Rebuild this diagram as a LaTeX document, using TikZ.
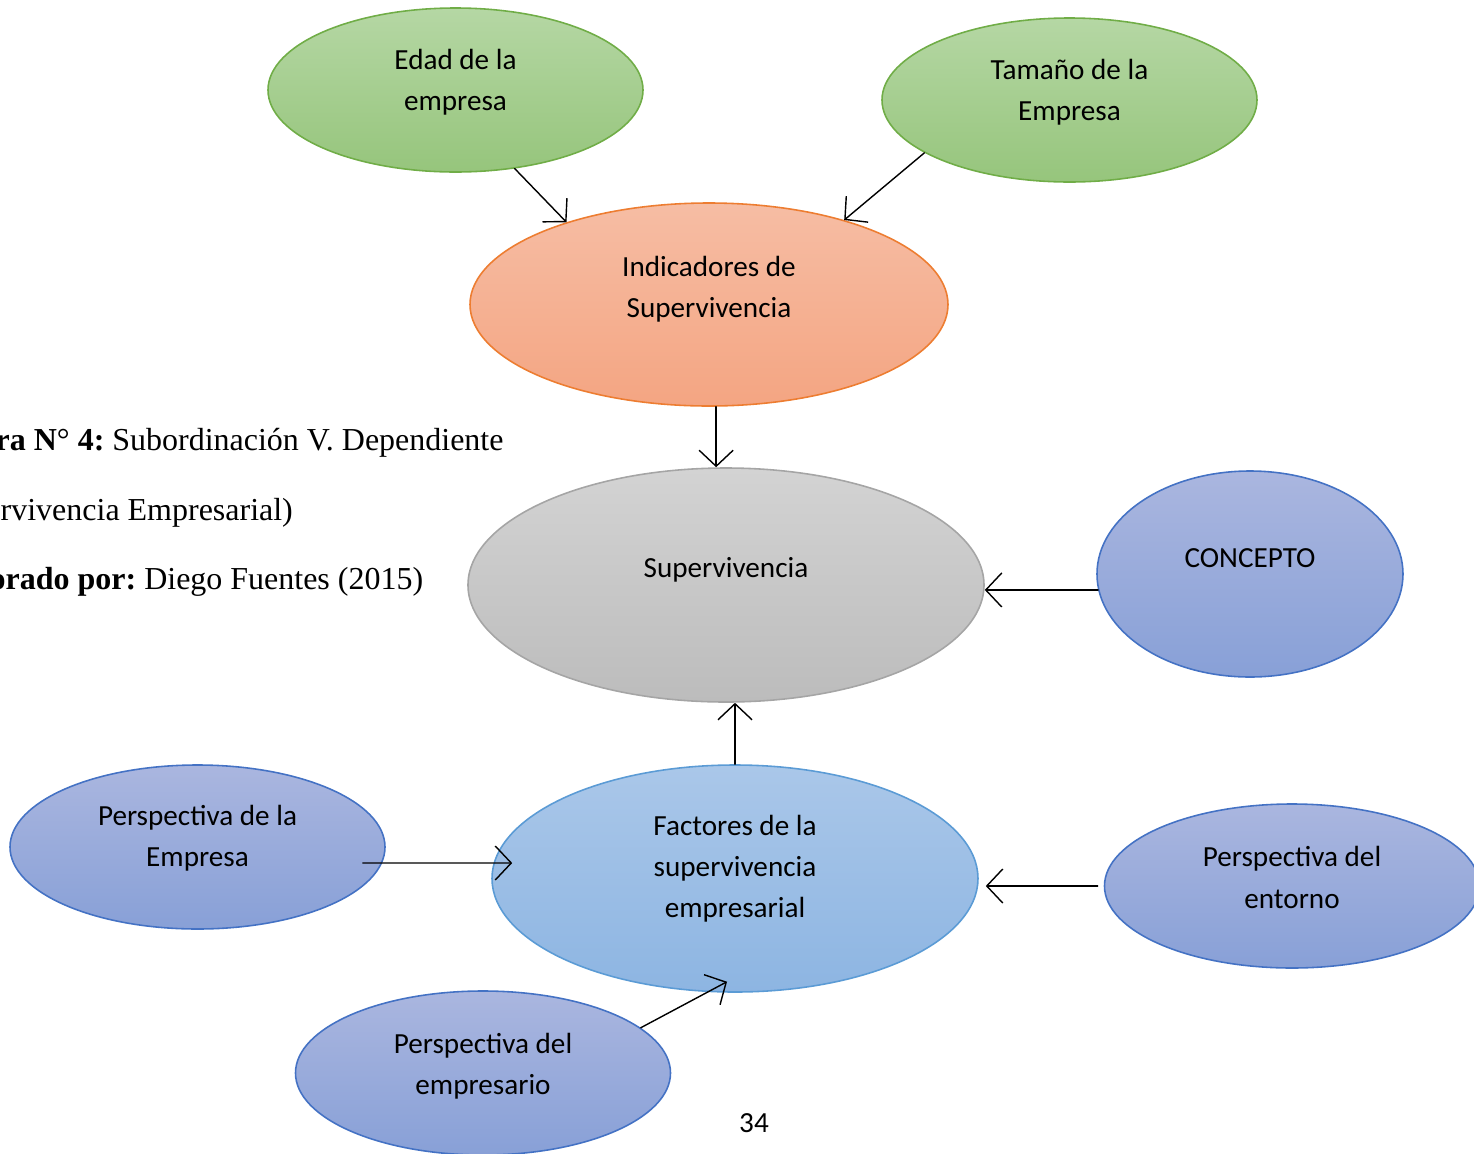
\documentclass[tikz,border=0pt]{standalone}
\usepackage{fontspec}
\setmainfont{Liberation Serif}
\newfontfamily\calibri{Carlito}
\usetikzlibrary{shapes.geometric,arrows.meta}
\frenchspacing
\definecolor{verdeA}{HTML}{B5D7A4}
\definecolor{verdeB}{HTML}{96C57C}
\definecolor{verdeL}{HTML}{70AD47}
\definecolor{naranjaA}{HTML}{F6BDA4}
\definecolor{naranjaB}{HTML}{F4A582}
\definecolor{naranjaL}{HTML}{ED7D31}
\definecolor{grisA}{HTML}{D3D3D3}
\definecolor{grisB}{HTML}{BCBCBC}
\definecolor{grisL}{HTML}{A5A5A5}
\definecolor{azulA}{HTML}{AAB6DF}
\definecolor{azulB}{HTML}{88A0D7}
\definecolor{azulL}{HTML}{4472C4}
\definecolor{celesteA}{HTML}{AAC7E9}
\definecolor{celesteB}{HTML}{8DB5E2}
\definecolor{celesteL}{HTML}{5B9BD5}
\begin{document}
\begin{tikzpicture}[line join=round, line cap=round,>={Straight Barb[length=1.6mm,width=3.4mm]},thin]
	\tikzset{blob/.style={ellipse,draw,inner sep=0pt,line width=0.45pt},
		lbl/.style={font=\calibri\fontsize{8.3}{11.7}\selectfont,align=center},
		verde/.style={blob,draw=verdeL,top color=verdeA,bottom color=verdeB,minimum width=3.75cm,minimum height=1.64cm},
		naranja/.style={blob,draw=naranjaL,top color=naranjaA,bottom color=naranjaB},
		gris/.style={blob,draw=grisL,top color=grisA,bottom color=grisB},
		azul/.style={blob,draw=azulL,top color=azulA,bottom color=azulB},
		celeste/.style={blob,draw=celesteL,top color=celesteA,bottom color=celesteB},
		pie/.style={font=\fontsize{9.1}{11}\selectfont,anchor=west,inner sep=0pt}}
	\useasboundingbox (0,0) rectangle (14.74,-11.54);
	\node[verde] (edad) at (4.555,-0.90)
		[label={[lbl,name=edad-t,yshift=0.08cm]center:{Edad de la\\empresa}}] {};
	\node[verde] (tam) at (10.695,-1.00)
		[label={[lbl,name=tam-t,yshift=0.075cm]center:{Tamaño de la\\Empresa}}] {};
	\node[naranja,minimum width=4.78cm,minimum height=2.03cm] (ind) at (7.09,-3.045)
		[label={[lbl,name=ind-t,yshift=0.155cm]center:{Indicadores de\\Supervivencia}}] {};
	\node[gris,minimum width=5.16cm,minimum height=2.34cm] (sup) at (7.26,-5.85)
		[label={[lbl,name=sup-t,yshift=0.15cm]center:{Supervivencia}}] {};
	\node[azul,minimum width=3.06cm,minimum height=2.06cm] (con) at (12.50,-5.74)
		[label={[lbl,name=con-t,yshift=0.16cm]center:{CONCEPTO}}] {};
	\node[celeste,minimum width=4.86cm,minimum height=2.27cm] (fac) at (7.35,-8.785)
		[label={[lbl,name=fac-t,yshift=0.095cm]center:{Factores de la\\supervivencia\\empresarial}}] {};
	\node[azul,minimum width=3.75cm,minimum height=1.64cm] (pe) at (1.975,-8.47)
		[label={[lbl,name=pe-t,yshift=0.085cm]center:{Perspectiva de la\\Empresa}}] {};
	\node[azul,minimum width=3.75cm,minimum height=1.64cm] (ent) at (12.92,-8.86)
		[label={[lbl,name=ent-t,yshift=0.085cm]center:{Perspectiva del\\entorno}}] {};
	\node[azul,minimum width=3.75cm,minimum height=1.64cm] (emp) at (4.83,-10.73)
		[label={[lbl,name=emp-t,yshift=0.07cm]center:{Perspectiva del\\empresario}}] {};
	\draw[->] (edad.-53) -- (ind.150);
	\draw[->] (tam.200) -- (ind.32);
	\draw[->] (ind.-86) -- (ind.-86 |- sup.north);
	\draw[->] (con.186) -- (con.186 -| sup.east);
	\draw[->] (fac.north) -- (fac.north |- sup.south);
	\draw[->] ([shift={(-0.23,-0.16)}]pe.east) -- ([shift={(0.21,0.155)}]fac.west);
	\draw[->] ([xshift=-0.06cm]ent.west) -- ([xshift=0.07cm]ent.west -| fac.east);
	\draw[->] (emp.16) -- ([yshift=0.11cm]fac.-94);
	\node[pie] (cap1) at (-0.05,-4.43) {\textbf{ra N}° \textbf{4:} Subordinación V. Dependiente};
	\node[pie] (cap2) at (0,-5.13) {rvivencia Empresarial)};
	\node[pie] (cap3) at (-0.11,-5.82) {\textbf{orado por:} Diego Fuentes (2015)};
	\node[lbl] (pag) at (7.54,-11.23) {34};
\end{tikzpicture}
\end{document}
